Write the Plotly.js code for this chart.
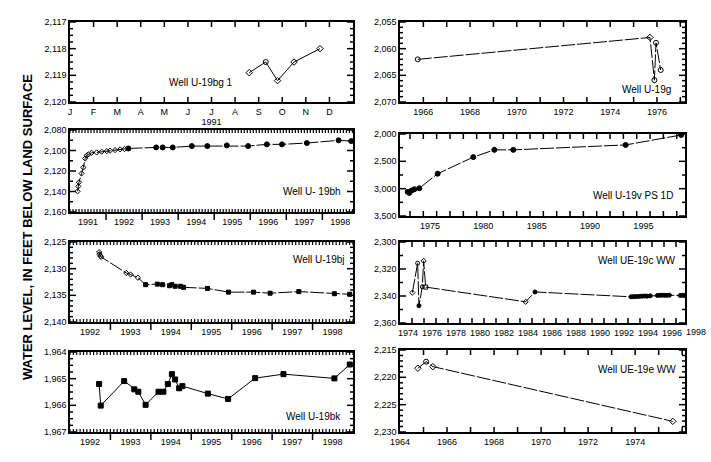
<!DOCTYPE html>
<html><head><meta charset="utf-8">
<script src="https://cdn.plot.ly/plotly-3.0.1.min.js"></script>
<style>html,body{margin:0;padding:0;background:#fff}#chart{width:711px;height:462px}</style>
</head><body><div id="chart"></div>
<script>
// ---------------- DATA ----------------
// Well U-19bg 1 (1991, x = month index, 0 = 1 Jan)
const bgMonth = [7.6, 8.3, 8.8, 9.5, 10.6];
const bgLevel = [2118.9, 2118.5, 2119.2, 2118.5, 2118.0];
const monthLabels = ['J','F','M','A','M','J','J','A','S','O','N','D'];

// Well U-19g
const gYear = [1965.76, 1975.70, 1975.89, 1975.96, 1976.16];
const gLevel = [2062.0, 2057.9, 2065.9, 2058.9, 2064.0];
const gLabels = ['1966','1968','1970','1972','1974','1976'];

// Well U-19bh
const bhOpenYear = [1991.21, 1991.23, 1991.25, 1991.32, 1991.37, 1991.42, 1991.46, 1991.51, 1991.60, 1991.74, 1991.88, 1992.02, 1992.11, 1992.25, 1992.39, 1992.51];
const bhOpenLevel = [2139.8, 2135.0, 2131.0, 2122.4, 2116.6, 2107.8, 2105.1, 2103.8, 2102.2, 2101.9, 2101.2, 2100.6, 2100.2, 2099.6, 2098.9, 2098.6];
const bhFillYear = [1992.62, 1993.39, 1993.57, 1993.85, 1994.38, 1994.81, 1995.35, 1995.94, 1996.46, 1996.88, 1997.57, 1998.45, 1998.80];
const bhFillLevel = [2098.0, 2097.0, 2097.0, 2097.0, 2095.7, 2095.7, 2095.0, 2095.7, 2094.0, 2094.0, 2092.7, 2090.1, 2090.8];
const bhLabels = ['1991','1992','1993','1994','1995','1996','1997','1998'];

// Well U-19v PS 1D
const vYear = [1972.91, 1973.06, 1973.28, 1973.53, 1974.00, 1975.72, 1979.06, 1981.03, 1982.81, 1993.34, 1998.54];
const vLevel = [3058, 3077, 3034, 3010, 2992, 2726, 2423, 2290, 2290, 2200, 2018];
const vLabels = ['1975','1980','1985','1990','1995'];

// Well U-19bj
const bjOpenYear = [1992.72, 1992.73, 1992.75, 1992.77, 1993.39, 1993.50, 1993.68];
const bjOpenLevel = [2126.9, 2127.3, 2127.6, 2127.8, 2130.8, 2131.1, 2131.7];
const bjFillYear = [1993.87, 1994.16, 1994.29, 1994.46, 1994.52, 1994.60, 1994.73, 1994.81, 1995.40, 1995.92, 1996.54, 1996.95, 1997.66, 1998.54, 1998.92];
const bjFillLevel = [2133.0, 2132.9, 2133.0, 2133.2, 2133.0, 2133.3, 2133.3, 2133.5, 2133.7, 2134.4, 2134.4, 2134.6, 2134.3, 2134.7, 2134.8];
const bjLabels = ['1992','1993','1994','1995','1996','1997','1998'];

// Well UE-19c WW
const cYear = [1974.03, 1974.47, 1974.58, 1974.86, 1974.97, 1975.14, 1983.47, 1984.25,
  1992.25, 1992.45, 1992.60, 1992.80, 1993.00, 1993.20, 1993.40, 1993.60, 1993.85,
  1994.45, 1994.65, 1994.85, 1995.05, 1995.25, 1995.45,
  1996.35, 1996.55, 1996.70];
const cLevel = [2337.5, 2315.7, 2347.2, 2333.2, 2314.0, 2333.4, 2344.3, 2337.0,
  2340.6, 2340.5, 2340.4, 2340.4, 2340.2, 2340.1, 2340.0, 2340.1, 2339.9,
  2339.6, 2339.5, 2339.4, 2339.5, 2339.5, 2339.4,
  2339.6, 2339.5, 2339.6];
const cLabels = ['1974','1976','1978','1980','1982','1984','1986','1988','1990','1992','1994','1996','1998'];

// Well U-19bk
const bkYear = [1992.72, 1992.76, 1993.34, 1993.59, 1993.69, 1993.87, 1994.19, 1994.31, 1994.42, 1994.52, 1994.60, 1994.70, 1994.78, 1995.41, 1995.91, 1996.58, 1997.28, 1998.54, 1998.92];
const bkLevel = [1965.20, 1966.01, 1965.09, 1965.40, 1965.49, 1965.98, 1965.49, 1965.49, 1965.20, 1964.83, 1965.03, 1965.36, 1965.28, 1965.56, 1965.76, 1964.98, 1964.83, 1964.99, 1964.47];

// Well UE-19e WW
const eYear = [1964.76, 1965.11, 1965.40, 1975.60];
const eLevel = [2218.34, 2217.13, 2218.04, 2228.05];
const eLabels = ['1964','1966','1968','1970','1972','1974'];

// ---------------- STYLE / LAYOUT ----------------
const FONT = 'Liberation Sans, Arial, sans-serif';
const BLACK = '#000';
const W = 711, H = 462;
const xL = [70/W, 353/W], xR = [400/W, 685/W];
const yd = (top, bot) => [1 - bot/H, 1 - top/H];
const TF = {family: FONT, size: 9, color: BLACK};

function seq(a, b, step) { const o = []; for (let k = 0; a + k*step <= b + 1e-9; k++) o.push(+(a + k*step).toFixed(6)); return o; }

// tick marks drawn as axis-referenced line shapes (positions through the axis scale)
const shapes = [];
const TL = {color: BLACK, width: 1.5};
const TLm = {color: BLACK, width: 1.2};
function tickX(xa, ya, dom, vals, len, where, line) {
  const l = line || TL;
  vals.forEach(v => {
    if (where.indexOf('b') >= 0) shapes.push({type: 'line', layer: 'above', xref: xa, yref: 'paper', x0: v, x1: v, y0: dom[0], y1: dom[0] + len/H, line: l});
    if (where.indexOf('t') >= 0) shapes.push({type: 'line', layer: 'above', xref: xa, yref: 'paper', x0: v, x1: v, y0: dom[1], y1: dom[1] - len/H, line: l});
  });
}
function tickY(xa, ya, dom, vals, len) {
  vals.forEach(v => {
    shapes.push({type: 'line', layer: 'above', xref: 'paper', yref: ya, x0: dom[0], x1: dom[0] + len/W, y0: v, y1: v, line: TL});
    shapes.push({type: 'line', layer: 'above', xref: 'paper', yref: ya, x0: dom[1], x1: dom[1] - len/W, y0: v, y1: v, line: TL});
  });
}

function yAx(domain, anchor, xdom, ya, rng, dtick, minorDtick) {
  const lo = Math.min(rng[0], rng[1]), hi = Math.max(rng[0], rng[1]);
  const majors = seq(lo, hi, dtick);
  tickY(anchor, ya, xdom, majors, 6);
  tickY(anchor, ya, xdom, seq(lo, hi, minorDtick).filter(v => !majors.some(m => Math.abs(m - v) < 1e-6)), 3);
  return {domain, anchor, range: rng, tickmode: 'linear', tick0: lo, dtick, ticks: '',
    tickformat: ',d', showline: true, linewidth: 1.5, linecolor: BLACK, mirror: true,
    showgrid: false, zeroline: false, fixedrange: true, tickfont: TF};
}
function xLin(domain, anchor, rng, o) {
  const ax = {domain, anchor, range: rng, tickmode: 'linear', tick0: o.tick0, dtick: o.dtick, ticks: '',
    ticklabelshift: o.shift || 0, tickformat: o.fmt === undefined ? 'd' : o.fmt,
    showline: true, linewidth: 1.5, linecolor: BLACK, mirror: true,
    showgrid: false, zeroline: false, fixedrange: true, tickfont: TF};
  if (o.alias) ax.labelalias = o.alias;
  return ax;
}

const DASH = '14px,2px';
const ln = (x, y, xa, ya, dash) => ({x, y, xaxis: xa, yaxis: ya, type: 'scatter', mode: 'lines',
  line: {color: BLACK, width: 1, dash: dash || 'solid'}, hoverinfo: 'skip', showlegend: false});
const mk = (x, y, xa, ya, symbol, size) => ({x, y, xaxis: xa, yaxis: ya, type: 'scatter', mode: 'markers',
  marker: {symbol, size, color: BLACK, line: {color: BLACK, width: 1}}, showlegend: false});

const cSyms = cYear.map((_, i) => ['diamond-open','circle-open','circle','circle-open','diamond-open','square-open','diamond-open','circle'][i] || 'circle');

const traces = [
  ln(bgMonth, bgLevel, 'x', 'y'),
  mk(bgMonth, bgLevel, 'x', 'y', ['diamond-open','circle-open','diamond-open','diamond-open','diamond-open'], 5),
  ln(gYear, gLevel, 'x2', 'y2', DASH),
  mk(gYear, gLevel, 'x2', 'y2', ['circle-open','diamond-open','circle-open','circle-open','circle-open'], 5),
  ln(bhOpenYear.concat(bhFillYear), bhOpenLevel.concat(bhFillLevel), 'x3', 'y3', DASH),
  mk(bhOpenYear, bhOpenLevel, 'x3', 'y3', 'diamond-open', 4),
  mk(bhFillYear, bhFillLevel, 'x3', 'y3', 'circle', 5),
  ln(vYear, vLevel, 'x4', 'y4', DASH),
  mk(vYear, vLevel, 'x4', 'y4', 'circle', 5),
  ln(bjOpenYear.concat(bjFillYear), bjOpenLevel.concat(bjFillLevel), 'x5', 'y5', DASH),
  mk(bjOpenYear, bjOpenLevel, 'x5', 'y5', 'diamond-open', 4),
  mk(bjFillYear, bjFillLevel, 'x5', 'y5', 'square', 4),
  ln(cYear, cLevel, 'x6', 'y6', DASH),
  mk(cYear, cLevel, 'x6', 'y6', cSyms, 4),
  ln(bkYear, bkLevel, 'x7', 'y7'),
  mk(bkYear, bkLevel, 'x7', 'y7', 'square', 5),
  ln(eYear, eLevel, 'x8', 'y8', DASH),
  mk(eYear, eLevel, 'x8', 'y8', ['diamond-open','circle-open','diamond-open','diamond-open'], 5)
];

const rBG = [0, 12], rG = [1965.0, 1977.2], rBH = [1991.0, 1998.85], rV = [1972.19, 1998.9];
const rBJ = [1992.0, 1999.0], rC = [1973.0, 1996.75], rE = [1964.0, 1976.12];

const D1 = yd(22, 102), D2L = yd(130, 212), D2R = yd(134, 216), D3L = yd(242, 322), D3R = yd(242, 323), D4L = yd(352, 432), D4R = yd(350, 432);

// month letters: label of each month boundary tick, shifted half a month to the right
const monthAlias = {'12': ''};
monthLabels.forEach((m, i) => { monthAlias[String(i)] = m; });

// x tick marks
tickX('x', 'y', D1, seq(1, 11, 1), 5, 'bt');
tickX('x2', 'y2', D1, seq(1966, 1977, 1), 5, 'bt');
tickX('x3', 'y3', D2L, seq(1991, rBH[1], 1/12), 3, 'bt', TLm);
tickX('x3', 'y3', D2L, seq(1992, 1998, 1), -8, 'b');
tickX('x4', 'y4', D2R, seq(1973.125, rV[1], 1.25), 5, 'bt');
tickX('x5', 'y5', D3L, seq(1992, 1999, 1/12), 3, 'bt', TLm);
tickX('x5', 'y5', D3L, seq(1993, 1998, 1), -8, 'b');
tickX('x6', 'y6', D3R, seq(1974, 1996, 1), 5, 'bt');
tickX('x7', 'y7', D4L, seq(1992, 1999, 1/12), 3, 'bt', TLm);
tickX('x7', 'y7', D4L, seq(1993, 1998, 1), -8, 'b');
tickX('x8', 'y8', D4R, seq(1965, 1976, 1), 5, 'bt');

const xa1 = xLin(xL, 'y', rBG, {tick0: 0, dtick: 1, shift: 11.8, alias: monthAlias, fmt: ''});
xa1.title = {text: '1991', font: TF, standoff: 2};

const yearAx = (labels, rng, anchor, shift) => xLin(xL, anchor, rng, {tick0: +labels[0], dtick: 1, shift, alias: {'1999': ''}});

const layout = {
  width: W, height: H, margin: {l: 0, r: 0, t: 0, b: 0},
  paper_bgcolor: '#fff', plot_bgcolor: '#fff', showlegend: false,
  font: {family: FONT, color: BLACK},
  xaxis: xa1,
  yaxis: yAx(D1, 'x', xL, 'y', [2120, 2117], 1, 0.25),
  xaxis2: xLin(xR, 'y2', rG, {tick0: +gLabels[0], dtick: gLabels[1] - gLabels[0], shift: 11.7}),
  yaxis2: yAx(D1, 'x2', xR, 'y2', [2070, 2055], 5, 1),
  xaxis3: yearAx(bhLabels, rBH, 'y3', 18),
  yaxis3: yAx(D2L, 'x3', xL, 'y3', [2160, 2080], 20, 10),
  xaxis4: xLin(xR, 'y4', rV, {tick0: +vLabels[0], dtick: vLabels[1] - vLabels[0]}),
  yaxis4: yAx(D2R, 'x4', xR, 'y4', [3500, 2000], 500, 250),
  xaxis5: yearAx(bjLabels, rBJ, 'y5', 20),
  yaxis5: yAx(D3L, 'x5', xL, 'y5', [2140, 2125], 5, 1),
  xaxis6: xLin(xR, 'y6', rC, {tick0: +cLabels[0], dtick: cLabels[1] - cLabels[0], shift: -4}),
  yaxis6: yAx(D3R, 'x6', xR, 'y6', [2360, 2300], 20, 10),
  xaxis7: yearAx(bjLabels, rBJ, 'y7', 20),
  yaxis7: yAx(D4L, 'x7', xL, 'y7', [1967, 1964], 1, 0.25),
  xaxis8: xLin(xR, 'y8', rE, {tick0: +eLabels[0], dtick: eLabels[1] - eLabels[0], shift: 11.8, alias: {'1976': ''}}),
  yaxis8: yAx(D4R, 'x8', xR, 'y8', [2230, 2215], 5, 1),
  shapes: shapes,
  annotations: [
    {text: 'WATER LEVEL, IN FEET BELOW LAND SURFACE', textangle: -90, xref: 'paper', yref: 'paper',
     x: 27/W, y: 1 - 227/H, xanchor: 'center', yanchor: 'middle', showarrow: false,
     font: {family: FONT, size: 13, color: BLACK, weight: 'bold'}},
    {text: 'Well U-19bg 1', xref: 'x domain', yref: 'y domain', x: 0.583, y: 0.2375, xanchor: 'right', yanchor: 'middle', showarrow: false, font: {family: FONT, size: 10, color: BLACK}},
    {text: 'Well U-19g', xref: 'x2 domain', yref: 'y2 domain', x: 0.958, y: 0.1625, xanchor: 'right', yanchor: 'middle', showarrow: false, font: {family: FONT, size: 10, color: BLACK}},
    {text: 'Well U- 19bh', xref: 'x3 domain', yref: 'y3 domain', x: 0.965, y: 0.256, xanchor: 'right', yanchor: 'middle', showarrow: false, font: {family: FONT, size: 10, color: BLACK}},
    {text: 'Well U-19v PS 1D', xref: 'x4 domain', yref: 'y4 domain', x: 0.965, y: 0.244, xanchor: 'right', yanchor: 'middle', showarrow: false, font: {family: FONT, size: 10, color: BLACK}},
    {text: 'Well U-19bj', xref: 'x5 domain', yref: 'y5 domain', x: 0.979, y: 0.7875, xanchor: 'right', yanchor: 'middle', showarrow: false, font: {family: FONT, size: 10, color: BLACK}},
    {text: 'Well UE-19c WW', xref: 'x6 domain', yref: 'y6 domain', x: 0.975, y: 0.768, xanchor: 'right', yanchor: 'middle', showarrow: false, font: {family: FONT, size: 10, color: BLACK}},
    {text: 'Well U-19bk', xref: 'x7 domain', yref: 'y7 domain', x: 0.965, y: 0.2, xanchor: 'right', yanchor: 'middle', showarrow: false, font: {family: FONT, size: 10, color: BLACK}},
    {text: 'Well UE-19e WW', xref: 'x8 domain', yref: 'y8 domain', x: 0.975, y: 0.768, xanchor: 'right', yanchor: 'middle', showarrow: false, font: {family: FONT, size: 10, color: BLACK}},
    {text: cLabels[cLabels.length - 1], xref: 'paper', yref: 'y6 domain', x: 696/W, y: 0, yshift: -2,
     xanchor: 'center', yanchor: 'top', showarrow: false, font: TF}
  ]
};

Plotly.newPlot('chart', traces, layout, {displayModeBar: false});
</script></body></html>
